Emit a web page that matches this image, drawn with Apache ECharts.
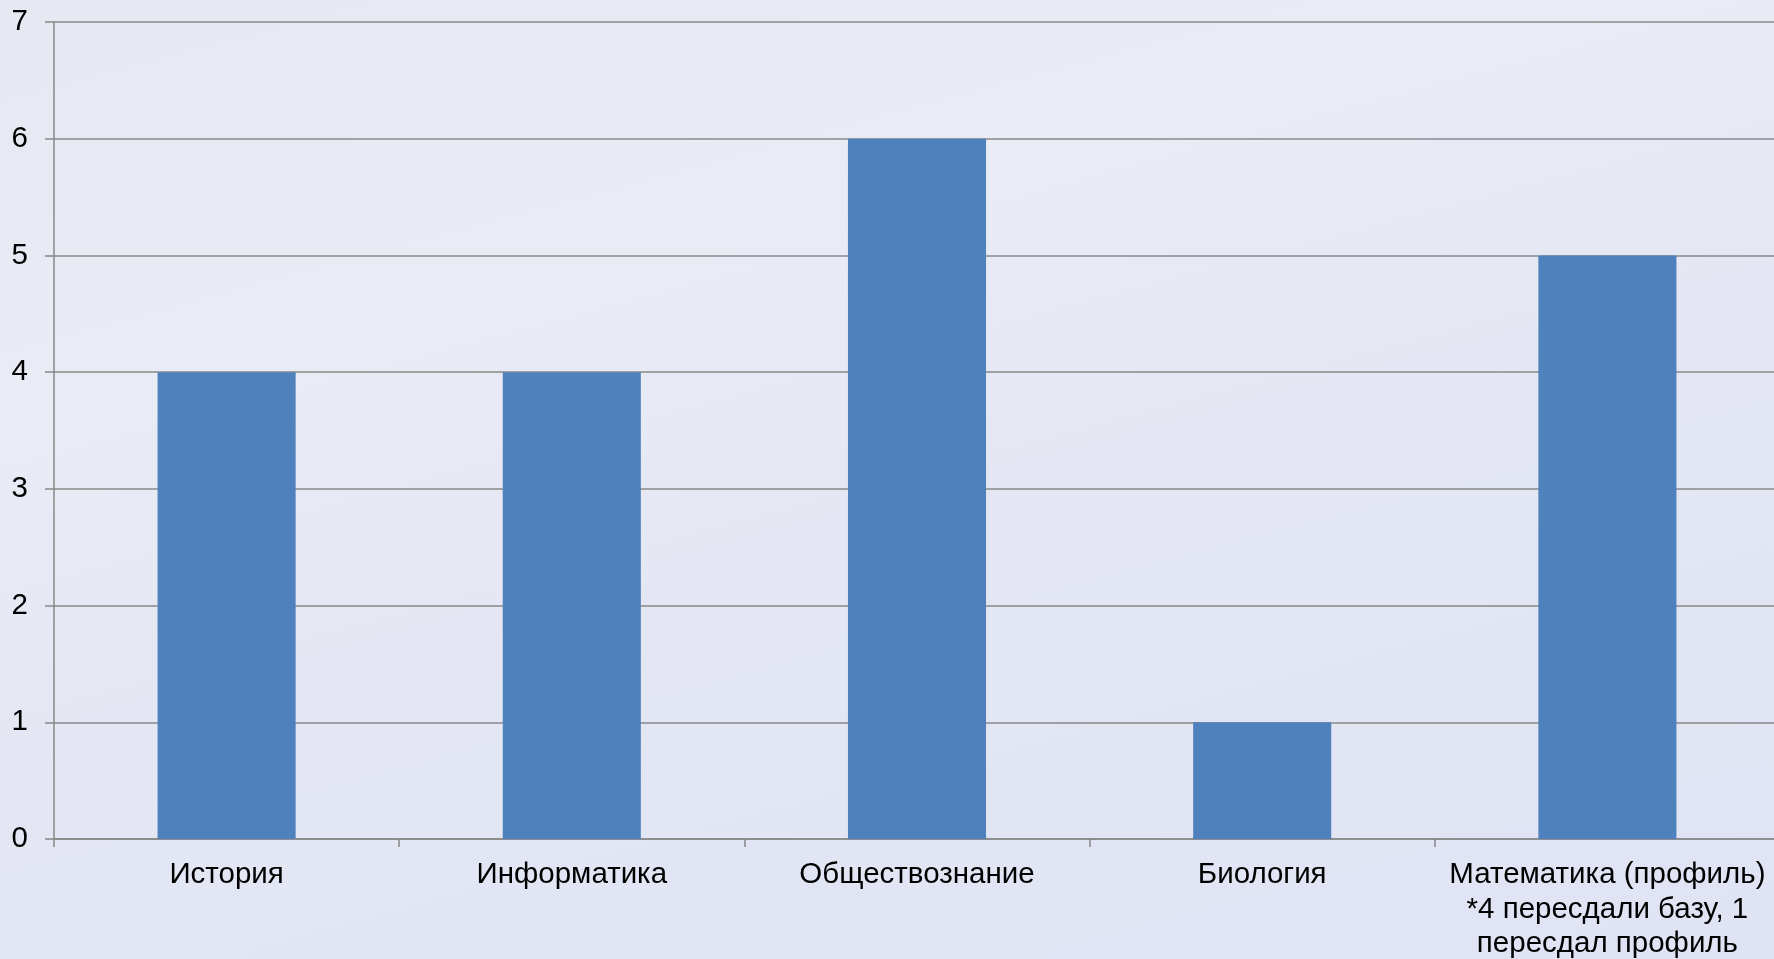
<!DOCTYPE html>
<html><head><meta charset="utf-8">
<script src="https://cdn.jsdelivr.net/npm/echarts@6/dist/echarts.min.js"></script>
<style>html,body{margin:0;padding:0;width:1774px;height:959px;overflow:hidden;}
#c{width:1774px;height:959px;background:linear-gradient(165deg,#e6e8f2 0%,#e9ebf5 30%,#e4e7f3 55%,#dfe3f4 100%);}</style>
</head><body><div id="c"></div>
<script>
const categories = ['История','Информатика','Обществознание','Биология','Математика (профиль)\n*4 пересдали базу, 1\nпересдал профиль'];
const values = [4,4,6,1,5];
const yTicks = {min:0,max:7,interval:1};
const FONT = '"Liberation Sans", Arial, sans-serif';
const chart = echarts.init(document.getElementById('c'));
chart.setOption({
  backgroundColor:'transparent',
  animation:false,
  grid:{left:54,right:-6,top:22,bottom:120,containLabel:false,outerBoundsMode:'none'},
  xAxis:{type:'category',data:categories,
    axisLine:{lineStyle:{color:'#888',width:1.5}},
    axisTick:{show:true,length:8,lineStyle:{color:'#888',width:1.5}},
    axisLabel:{color:'#000',fontFamily:FONT,fontSize:29.5,lineHeight:34.5,margin:19,interval:0}},
  yAxis:{type:'value',min:yTicks.min,max:yTicks.max,interval:yTicks.interval,
    axisLine:{show:true,lineStyle:{color:'#888',width:1.5}},
    axisTick:{show:true,length:9,lineStyle:{color:'#888',width:1.5}},
    splitLine:{lineStyle:{color:'#888',width:1.5}},
    axisLabel:{color:'#000',fontFamily:FONT,fontSize:29.5,margin:26}},
  series:[{type:'bar',data:values,barWidth:'40%',itemStyle:{color:'#4F81BD'}}]
});
</script></body></html>
